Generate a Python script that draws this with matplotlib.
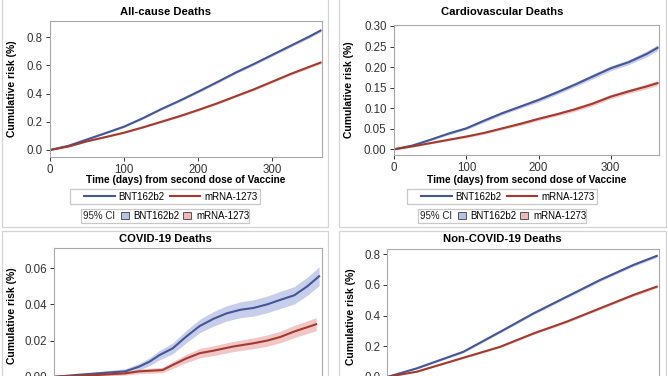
import matplotlib.pyplot as plt
from matplotlib.lines import Line2D
from matplotlib.patches import Patch, Rectangle
import numpy as np

plt.rcParams['font.family'] = ['Liberation Sans', 'DejaVu Sans']

# Data (cumulative risk, %)
days = [0, 25, 50, 75, 100, 125, 150, 175, 200, 225, 250, 275, 300, 325, 350, 365]

allcause_bnt = [0, 0.03, 0.075, 0.12, 0.166, 0.225, 0.29, 0.35, 0.414, 0.48, 0.548, 0.61, 0.675, 0.74, 0.805, 0.847]
allcause_mrna = [0, 0.025, 0.062, 0.092, 0.123, 0.16, 0.2, 0.24, 0.284, 0.33, 0.38, 0.43, 0.485, 0.54, 0.59, 0.62]
allcause_bnt_ci = [0, 0.003, 0.004, 0.005, 0.006, 0.006, 0.007, 0.007, 0.008, 0.008, 0.008, 0.009, 0.009, 0.009, 0.01, 0.01]
allcause_mrna_ci = [0, 0.003, 0.004, 0.004, 0.005, 0.005, 0.006, 0.006, 0.007, 0.007, 0.007, 0.008, 0.008, 0.008, 0.009, 0.009]

cardio_bnt = [0, 0.009, 0.023, 0.038, 0.051, 0.07, 0.088, 0.104, 0.12, 0.138, 0.157, 0.177, 0.197, 0.212, 0.232, 0.247]
cardio_mrna = [0, 0.007, 0.015, 0.023, 0.031, 0.04, 0.051, 0.062, 0.074, 0.085, 0.097, 0.111, 0.128, 0.141, 0.153, 0.161]
cardio_bnt_ci = [0, 0.001, 0.002, 0.003, 0.003, 0.004, 0.004, 0.004, 0.005, 0.005, 0.005, 0.006, 0.006, 0.006, 0.007, 0.007]
cardio_mrna_ci = [0, 0.001, 0.002, 0.002, 0.003, 0.003, 0.003, 0.004, 0.004, 0.004, 0.005, 0.005, 0.005, 0.005, 0.006, 0.006]

covid_bnt_days = [0, 30, 60, 97, 116, 130, 144, 162, 180, 199, 218, 236, 255, 273, 292, 310, 329, 347, 363]
covid_bnt = [0, 0.001, 0.0019, 0.003, 0.0056, 0.0083, 0.012, 0.0157, 0.022, 0.028, 0.032, 0.035, 0.037, 0.038, 0.040, 0.0425, 0.045, 0.050, 0.0555]
covid_bnt_ci = [0, 0.0006, 0.001, 0.0014, 0.0018, 0.0022, 0.0026, 0.003, 0.0034, 0.0037, 0.004, 0.0042, 0.0044, 0.0045, 0.0046, 0.0047, 0.0048, 0.005, 0.0052]
covid_mrna_days = [0, 30, 60, 97, 116, 148, 162, 180, 199, 218, 245, 273, 292, 310, 329, 359]
covid_mrna = [0, 0.0005, 0.001, 0.0019, 0.003, 0.0037, 0.0065, 0.010, 0.013, 0.0144, 0.0167, 0.0185, 0.020, 0.022, 0.025, 0.029]
covid_mrna_ci = [0, 0.0004, 0.0007, 0.001, 0.0013, 0.0015, 0.0019, 0.0023, 0.0026, 0.0027, 0.0028, 0.003, 0.0031, 0.0032, 0.0034, 0.0036]

noncovid_days = [0, 39, 102, 152, 197, 242, 287, 332, 364]
noncovid_bnt = [0, 0.055, 0.163, 0.294, 0.414, 0.523, 0.632, 0.73, 0.79]
noncovid_mrna = [0, 0.033, 0.124, 0.196, 0.283, 0.36, 0.447, 0.534, 0.589]
noncovid_bnt_ci = [0, 0.004, 0.006, 0.007, 0.008, 0.008, 0.009, 0.009, 0.01]
noncovid_mrna_ci = [0, 0.003, 0.005, 0.006, 0.007, 0.007, 0.008, 0.008, 0.009]

titles = ['All-cause Deaths', 'Cardiovascular Deaths', 'COVID-19 Deaths', 'Non-COVID-19 Deaths']
series = ['BNT162b2', 'mRNA-1273']

BLUE = '#445694'
RED = '#A23A2E'
BLUE_FILL = '#B8C2E6'
RED_FILL = '#EDB8B8'
FRAME = '#c8c8c8'

W, H = 668, 376
fig = plt.figure(figsize=(W / 100, H / 100), dpi=100)


def frac(x0, y0, x1, y1):
    # pixel box (top-left origin) -> figure fraction rect
    return [x0 / W, 1 - y1 / H, (x1 - x0) / W, (y1 - y0) / H]


def frame(x0, y0, x1, y1, color):
    fig.patches.append(Rectangle((x0 / W, 1 - y1 / H), (x1 - x0) / W, (y1 - y0) / H,
                                 transform=fig.transFigure, fill=False, ec=color, lw=0.9))


# panel frames
for box in [(2, -2, 328, 227), (339, -2, 666, 227), (2, 231, 328, 400), (339, 231, 666, 400)]:
    frame(*box, '#d4d4d4')

panels = [
    dict(box=(49.5, 21, 322, 157), ylim=(-0.05, 0.915), yticks=[0, 0.2, 0.4, 0.6, 0.8], fmt='%.1f',
         d1=days, b=allcause_bnt, bci=allcause_bnt_ci, d2=days, m=allcause_mrna, mci=allcause_mrna_ci,
         cx=165, ty=12, ylx=12, legend=True),
    dict(box=(393.5, 24.5, 659, 155), ylim=(-0.0139, 0.3036), yticks=[0, 0.05, 0.1, 0.15, 0.2, 0.25, 0.3], fmt='%.2f',
         d1=days, b=cardio_bnt, bci=cardio_bnt_ci, d2=days, m=cardio_mrna, mci=cardio_mrna_ci,
         cx=502, ty=12, ylx=349, legend=True),
    dict(box=(54, 248, 322, 384), ylim=(-0.004, 0.0711), yticks=[0, 0.02, 0.04, 0.06], fmt='%.2f',
         d1=covid_bnt_days, b=covid_bnt, bci=covid_bnt_ci, d2=covid_mrna_days, m=covid_mrna, mci=covid_mrna_ci,
         cx=165, ty=239, ylx=12, legend=False),
    dict(box=(387.3, 249, 659, 385), ylim=(-0.054, 0.835), yticks=[0, 0.2, 0.4, 0.6, 0.8], fmt='%.1f',
         d1=noncovid_days, b=noncovid_bnt, bci=noncovid_bnt_ci, d2=noncovid_days, m=noncovid_mrna, mci=noncovid_mrna_ci,
         cx=502, ty=239, ylx=351, legend=False),
]

for title, p in zip(titles, panels):
    ax = fig.add_axes(frac(*p['box']))
    for d, v, ci, c, fc in [(p['d1'], p['b'], p['bci'], BLUE, BLUE_FILL), (p['d2'], p['m'], p['mci'], RED, RED_FILL)]:
        v = np.array(v)
        ci = np.array(ci)
        ax.fill_between(d, v - ci, v + ci, color=fc, alpha=0.8, lw=0)
        ax.plot(d, v, color=c, lw=1.5)
    ax.set_xlim(-1, 367)
    ax.set_ylim(*p['ylim'])
    ax.set_xticks([0, 100, 200, 300])
    ax.set_yticks(p['yticks'])
    ax.yaxis.set_major_formatter(plt.FormatStrFormatter(p['fmt']))
    ax.tick_params(labelsize=8.3, colors='#333333', length=3, width=0.7, pad=2)
    for s in ax.spines.values():
        s.set_color('#a8a8a8')
        s.set_linewidth(0.8)
    cx = p['cx']
    fig.text(cx / W, 1 - p['ty'] / H, title, ha='center', va='center', fontsize=8.1, fontweight='bold')
    x0, y0, x1, y1 = p['box']
    fig.text(p['ylx'] / W, 1 - (y0 + y1) / 2 / H, 'Cumulative risk (%)', rotation=90, ha='center', va='center',
             fontsize=7.5, fontweight='bold')
    if p['legend']:
        fig.text((x0 + x1) / 2 / W, 1 - 180 / H, 'Time (days) from second dose of Vaccine', ha='center', va='center',
                 fontsize=7.3, fontweight='bold')
        # line legend
        frame(cx - 95, 189, cx + 95, 204, FRAME)
        h1 = [Line2D([], [], color=BLUE, lw=1.5), Line2D([], [], color=RED, lw=1.5)]
        fig.legend(h1, series, loc='center', bbox_to_anchor=((cx + 6) / W, 1 - 196.5 / H), ncol=2,
                   fontsize=7.0, frameon=False, handlelength=3.1, columnspacing=0.6,
                   borderpad=0, handletextpad=0.4)
        # confidence band legend
        frame(cx - 84, 209, cx + 84, 223, FRAME)
        fig.text((cx - 82) / W, 1 - 216 / H, '95% CI', ha='left', va='center', fontsize=7.0, color='#222222')
        h2 = [Patch(fc=BLUE_FILL, ec='#555555', lw=0.7), Patch(fc=RED_FILL, ec='#555555', lw=0.7)]
        fig.legend(h2, series, loc='center', bbox_to_anchor=((cx + 20) / W, 1 - 216 / H),
                   ncol=2, fontsize=7.0, frameon=False, handlelength=0.8, handleheight=0.8,
                   columnspacing=0.4, borderpad=0, handletextpad=0.5)

fig.savefig('out.png', dpi=100)
